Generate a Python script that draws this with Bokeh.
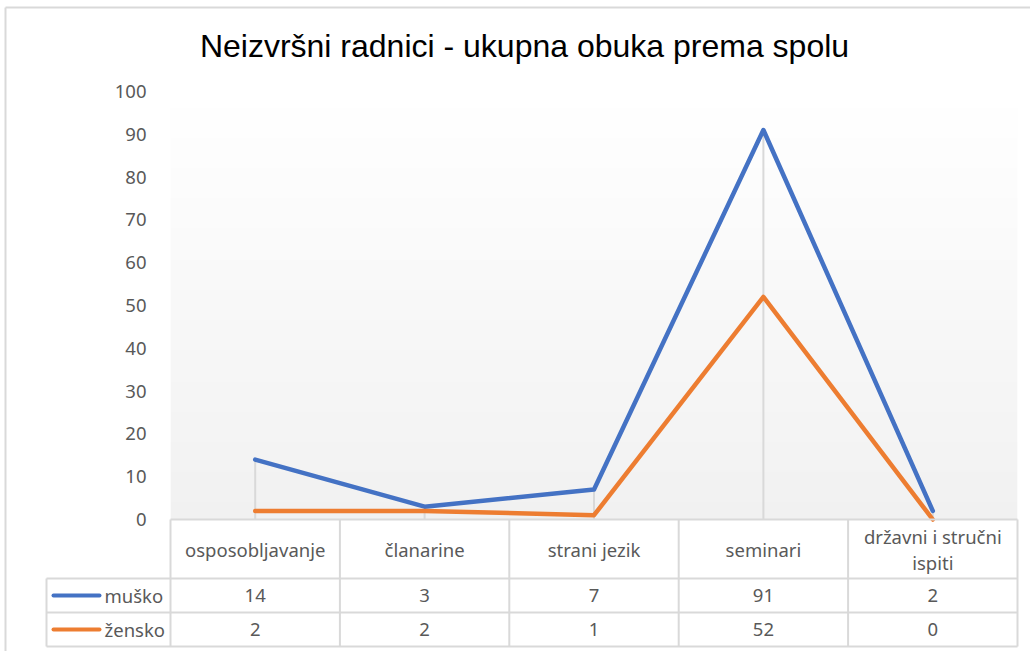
import numpy as np
from bokeh.plotting import figure
from bokeh.models import Range1d, FixedTicker, ColumnDataSource
from bokeh.core.properties import value
from bokeh.embed import file_html
from bokeh.resources import INLINE

# ---------------- data ----------------
title_text = "Neizvršni radnici - ukupna obuka prema spolu"
categories = ["osposobljavanje", "članarine", "strani jezik", "seminari", "državni i stručni\nispiti"]
series_names = ["muško", "žensko"]
musko = [14, 3, 7, 91, 2]
zensko = [2, 2, 1, 52, 0]
y_ticks = [0, 10, 20, 30, 40, 50, 60, 70, 80, 90, 100]

# ---------------- styles ----------------
BLUE = "#4472C4"
ORANGE = "#ED7D31"
GRID = "#d9d9d9"
TXT = "#595959"
FONT = value("Noto Sans")
FS = "18.5px"

# pixel geometry helpers (layout only)
PX_PER_UNIT = 4.28          # vertical px per value unit
Y0_PIX = 519                # canvas y of value 0
COL_W = 169.4               # px per category
X0_PIX = 170                # canvas x of category-range start


def yv(pix):
    return (Y0_PIX - pix) / PX_PER_UNIT


def xv(pix):
    return (pix - X0_PIX) / COL_W


n = len(categories)
xs = [i + 0.5 for i in range(n)]

y_bottom = yv(651)

p = figure(width=1030, height=651, output_backend="svg", toolbar_location=None,
           x_range=Range1d(0, n), y_range=Range1d(y_bottom, 100),
           x_axis_location=None, title=None,
           min_border_left=170, min_border_right=13, min_border_top=91, min_border_bottom=0)
p.outline_line_color = None
p.grid.visible = False
p.background_fill_color = "white"
p.border_fill_color = "white"

# y axis
ax = p.yaxis[0]
ax.ticker = FixedTicker(ticks=y_ticks)
ax.axis_line_color = None
ax.major_tick_line_color = None
ax.minor_tick_line_color = None
ax.major_label_text_font = "Noto Sans"
ax.major_label_text_font_size = FS
ax.major_label_text_color = TXT
ax.major_label_standoff = 18

# gradient plot-area background
N = 256
grad = np.zeros((N, 1, 4), dtype=np.uint8)
for r in range(N):
    t = r / (N - 1)  # 0 bottom -> 1 top
    c = int(round(241 + (255 - 241) * t))
    grad[r, 0] = [c, c, c, 255]
img = grad.view(dtype=np.uint32).reshape((N, 1))
p.image_rgba(image=[img], x=0, y=0, dw=n, dh=100)

# drop lines
tops = [max(a, b) for a, b in zip(musko, zensko)]
p.segment(x0=xs, y0=[0] * n, x1=xs, y1=tops, line_color=GRID, line_width=2)

# series lines
p.line(xs, musko, line_color=BLUE, line_width=4.5, line_join="round", line_cap="round")
p.line(xs, zensko, line_color=ORANGE, line_width=4.5, line_join="round", line_cap="round")

# ---------------- data table ----------------
hdr_bot = yv(578)
r1_bot = yv(612)
r2_bot = yv(646)
left_x = xv(46)

seg_x0, seg_y0, seg_x1, seg_y1 = [], [], [], []
for (xa, yy) in [(0, 0), (left_x, hdr_bot), (left_x, r1_bot), (left_x, r2_bot)]:
    seg_x0.append(xa); seg_x1.append(n); seg_y0.append(yy); seg_y1.append(yy)
for i in range(n + 1):
    seg_x0.append(i); seg_x1.append(i); seg_y0.append(0); seg_y1.append(r2_bot)
seg_x0.append(left_x); seg_x1.append(left_x); seg_y0.append(hdr_bot); seg_y1.append(r2_bot)
p.segment(x0=seg_x0, y0=seg_y0, x1=seg_x1, y1=seg_y1, line_color=GRID, line_width=2, level="overlay")

# outer chart border (left and top edges visible)
p.segment(x0=[xv(5), xv(5)], y0=[yv(7), yv(7)], x1=[xv(5), xv(1030)], y1=[yv(651), yv(7)],
          line_color=GRID, line_width=2, level="overlay")

# header texts
p.text(x=xs, y=[yv(549)] * n, text=categories, text_align="center", text_baseline="middle",
       text_font=FONT, text_font_size=FS, text_color=TXT, text_line_height=1.05, level="overlay")

# value rows
row_y = [yv(595), yv(629)]
row_colors = [BLUE, ORANGE]
for vals, ry, col, name in zip([musko, zensko], row_y, row_colors, series_names):
    src = ColumnDataSource(dict(x=xs, y=[ry] * n, t=[str(v) for v in vals]))
    p.text(x="x", y="y", text="t", source=src, text_align="center", text_baseline="middle",
           text_font=FONT, text_font_size=FS, text_color=TXT, level="overlay")
    p.segment(x0=[xv(53)], y0=[ry], x1=[xv(99)], y1=[ry], line_color=col, line_width=4,
              line_cap="round", level="overlay")
    p.text(x=[xv(104)], y=[ry], text=[name], text_align="left", text_baseline="middle",
           text_font=FONT, text_font_size=FS, text_color=TXT, level="overlay")

# title
p.text(x=[xv(524)], y=[yv(45)], text=[title_text], text_align="center",
       text_baseline="middle", text_font=value("Liberation Sans"),
       text_font_size="32px", text_color="#000000", level="overlay")

open("out.html", "w").write(file_html(p, INLINE))
